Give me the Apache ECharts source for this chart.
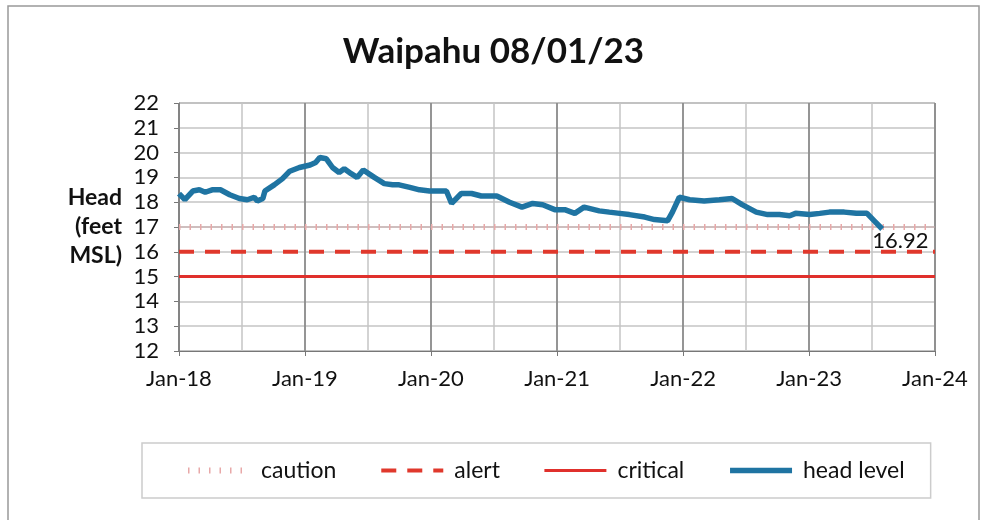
<!DOCTYPE html>
<html>
<head>
<meta charset="utf-8">
<script src="https://cdn.jsdelivr.net/npm/echarts@6/dist/echarts.min.js"></script>
<style>
  html, body { margin: 0; padding: 0; background: #fff; }
  #chart { width: 987px; height: 520px; }
</style>
</head>
<body>
<div id="chart"></div>
<script>
// head level readings (feet MSL)
const headDates = ['2018-01-01','2018-01-18','2018-02-10','2018-03-01','2018-03-18','2018-04-07','2018-05-01','2018-05-28','2018-06-25','2018-07-18','2018-08-07','2018-08-16','2018-09-01','2018-09-07','2018-10-04','2018-10-28','2018-11-18','2018-12-16',
  '2019-01-16','2019-02-01','2019-02-13','2019-03-04','2019-03-22','2019-04-10','2019-04-25','2019-05-15','2019-06-01','2019-06-19','2019-07-21','2019-08-19','2019-09-12','2019-10-01','2019-11-01','2019-11-29','2019-12-28',
  '2020-01-26','2020-02-15','2020-03-01','2020-03-29','2020-04-28','2020-05-26','2020-07-10','2020-08-16','2020-09-21','2020-10-22','2020-11-20','2020-12-25',
  '2021-01-23','2021-02-21','2021-03-20','2021-05-03','2021-06-01','2021-07-01','2021-07-29','2021-09-12','2021-10-10','2021-11-17','2021-12-01','2021-12-21',
  '2022-01-20','2022-03-03','2022-04-16','2022-05-23','2022-06-21','2022-08-01','2022-09-03','2022-10-07','2022-11-06','2022-11-23',
  '2023-01-03','2023-02-01','2023-03-01','2023-04-13','2023-05-18','2023-06-18','2023-07-09','2023-08-01'];
const headValues = [18.35,18.1,18.45,18.5,18.4,18.5,18.5,18.3,18.15,18.1,18.2,18.05,18.15,18.45,18.7,18.95,19.25,19.4,
  19.5,19.6,19.8,19.75,19.4,19.2,19.35,19.15,19.0,19.3,19.0,18.75,18.7,18.7,18.6,18.5,18.45,
  18.45,18.45,17.95,18.35,18.35,18.25,18.25,18.0,17.8,17.95,17.9,17.7,
  17.7,17.55,17.8,17.65,17.6,17.55,17.5,17.4,17.3,17.25,17.6,18.2,
  18.1,18.05,18.1,18.15,17.9,17.6,17.5,17.5,17.45,17.55,
  17.5,17.55,17.6,17.6,17.55,17.55,17.25,16.92];

// threshold levels
const levelDates = ['2018-01-01', '2024-01-01'];
const cautionLevel = [17, 17];
const alertLevel = [16, 16];
const criticalLevel = [15, 15];

const yMin = 12, yMax = 22;
const legendNames = ['caution', 'alert', 'critical', 'head level'];

const pairs = (xs, ys) => xs.map((x, i) => [x, ys[i]]);

const YEAR = 365 * 24 * 3600 * 1000;
const font = 'Lato';

const chart = echarts.init(document.getElementById('chart'));
chart.setOption({
  animation: false,
  backgroundColor: '#fff',
  title: {
    text: 'Waipahu 08/01/23',
    left: 'center',
    top: 29,
    textStyle: { fontSize: 35, fontWeight: 'bold', color: '#111', fontFamily: font }
  },
  graphic: [{
    type: 'rect',
    shape: { x: 8, y: 6, width: 971, height: 530 },
    style: { fill: null, stroke: '#999', lineWidth: 1.5 },
    silent: true
  }],
  legend: {
    data: legendNames,
    left: 142,
    top: 443,
    padding: [16, 26, 16, 43],
    itemGap: 43,
    itemWidth: 62,
    itemHeight: 12,
    borderColor: '#ccc',
    borderWidth: 1.5,
    itemStyle: { opacity: 0 },
    lineStyle: { width: 'inherit' },
    textStyle: { fontSize: 23, color: '#111', fontFamily: font, padding: [0, 0, 0, 6] }
  },
  grid: { left: 179, right: 52, top: 103, bottom: 169, show: true, borderColor: '#777', borderWidth: 1 },
  xAxis: [{
    type: 'time',
    min: '2018-01-01',
    max: '2024-01-01',
    minInterval: YEAR,
    maxInterval: YEAR,
    axisLine: { lineStyle: { color: '#777' } },
    axisTick: { show: true, length: 5, lineStyle: { color: '#777' } },
    axisLabel: {
      formatter: '{MMM}-{yy}', fontSize: 22, color: '#111', fontFamily: font, margin: 17,
      showMinLabel: true, showMaxLabel: true
    },
    splitLine: { show: true, lineStyle: { color: '#808080', width: 1.5 } },
    z: 3
  }, {
    // half-year gridlines
    type: 'time',
    min: '2018-01-01',
    max: '2024-01-01',
    minInterval: YEAR / 2,
    maxInterval: YEAR / 2,
    position: 'bottom',
    axisLine: { show: false },
    axisTick: { show: false },
    axisLabel: { show: false },
    splitLine: { show: true, lineStyle: { color: '#c4c4c4', width: 1.5 } },
    z: 1
  }],
  yAxis: {
    type: 'value',
    min: yMin,
    max: yMax,
    interval: 1,
    name: 'Head\n(feet\nMSL)',
    nameLocation: 'middle',
    nameRotate: 0,
    nameGap: 57,
    nameTextStyle: { fontSize: 23, fontWeight: 'bold', color: '#111', fontFamily: font, lineHeight: 29, align: 'right' },
    axisLine: { show: true, lineStyle: { color: '#777' } },
    axisTick: { show: true, length: 5, lineStyle: { color: '#777' } },
    axisLabel: { fontSize: 22, color: '#111', fontFamily: font, margin: 20 },
    splitLine: { show: true, lineStyle: { color: '#c4c4c4', width: 1.5 } }
  },
  series: [{
    name: 'caution base',
    type: 'line',
    data: pairs(levelDates, cautionLevel),
    symbol: 'none',
    lineStyle: { color: '#c9a9a9', width: 1 },
    silent: true
  }, {
    name: 'caution',
    type: 'line',
    data: pairs(levelDates, cautionLevel),
    symbol: 'none',
    lineStyle: { color: '#e8a8a8', width: 6, type: [1.5, 9] }
  }, {
    name: 'alert',
    type: 'line',
    data: pairs(levelDates, alertLevel),
    symbol: 'none',
    lineStyle: { color: '#e0382c', width: 4, type: [15, 11] }
  }, {
    name: 'critical',
    type: 'line',
    data: pairs(levelDates, criticalLevel),
    symbol: 'none',
    lineStyle: { color: '#e0302c', width: 3 }
  }, {
    name: 'head level',
    type: 'line',
    data: pairs(headDates, headValues),
    symbol: 'none',
    z: 5,
    lineStyle: { color: '#1f74a2', width: 5.5 },
    endLabel: {
      show: true,
      distance: 0,
      offset: [-10, 12],
      formatter: p => p.value[1].toFixed(2),
      fontSize: 22, color: '#111', fontFamily: font
    }
  }]
});
</script>
</body>
</html>
